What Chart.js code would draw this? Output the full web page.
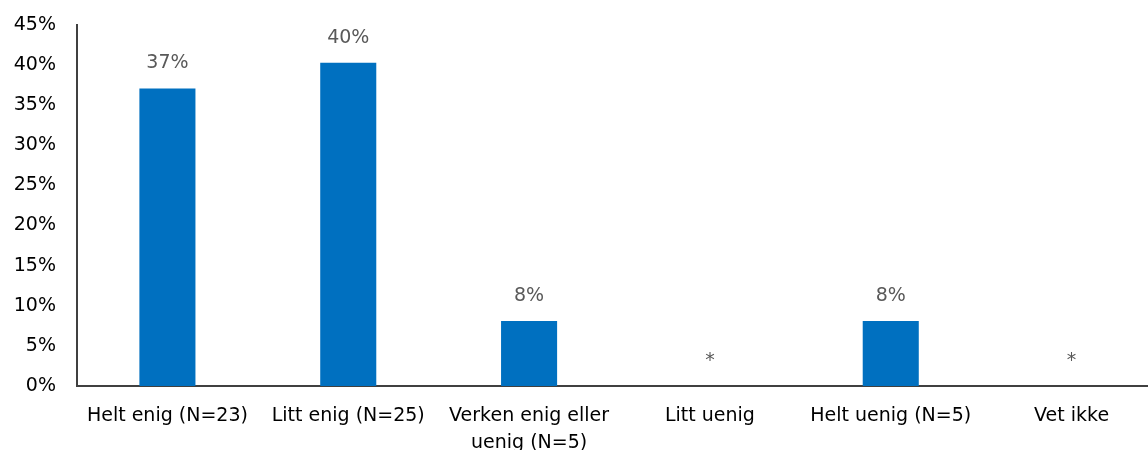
<!DOCTYPE html>
<html>
<head>
<meta charset="utf-8">
<script src="https://cdn.jsdelivr.net/npm/chart.js@4"></script>
<style>
  html, body { margin: 0; padding: 0; background: #fff; overflow: hidden; }
  #wrap { width: 1163px; height: 450px; }
</style>
</head>
<body>
<div id="wrap"><canvas id="chart" width="1163" height="450"></canvas></div>
<script>
// Kategorier og verdier (prosent)
const categories = [
  'Helt enig (N=23)',
  'Litt enig (N=25)',
  ['Verken enig eller', 'uenig (N=5)'],
  'Litt uenig',
  'Helt uenig (N=5)',
  'Vet ikke'
];
const values = [37.1, 40.3, 8.1, 0, 8.1, 0];
const valueLabels = ['37%', '40%', '8%', '*', '8%', '*'];
const yTicks = [0, 5, 10, 15, 20, 25, 30, 35, 40, 45];

const FONT = 'DejaVu Sans';

// Enkel plugin for å skrive verdier over søylene
const barLabels = {
  id: 'barLabels',
  afterDatasetsDraw(chart) {
    const ctx = chart.ctx;
    const meta = chart.getDatasetMeta(0);
    ctx.save();
    ctx.font = '19px "' + FONT + '"';
    ctx.fillStyle = '#595959';
    ctx.textAlign = 'center';
    ctx.textBaseline = 'middle';
    meta.data.forEach((bar, i) => {
      ctx.fillText(valueLabels[i], bar.x, bar.y - 25);
    });
    ctx.restore();
  }
};

new Chart(document.getElementById('chart').getContext('2d'), {
  type: 'bar',
  data: {
    labels: categories,
    datasets: [{
      data: values,
      backgroundColor: '#0070C0',
      barPercentage: 0.31,
      categoryPercentage: 1
    }]
  },
  options: {
    responsive: false,
    animation: false,
    layout: { padding: { top: 25, right: 1, left: 0, bottom: 0 } },
    plugins: {
      legend: { display: false },
      tooltip: { enabled: false }
    },
    scales: {
      x: {
        grid: { display: false, drawTicks: false },
        border: { display: true, color: '#404040', width: 2 },
        ticks: {
          color: '#000',
          padding: 16,
          maxRotation: 0,
          autoSkip: false,
          font: { family: FONT, size: 19, lineHeight: 1.45 }
        },
        afterFit: s => { s.height = 64; }
      },
      y: {
        min: 0,
        max: 45,
        afterBuildTicks: s => { s.ticks = yTicks.map(v => ({ value: v })); },
        grid: { display: false, drawTicks: false },
        border: { display: true, color: '#404040', width: 2 },
        ticks: {
          color: '#000',
          padding: 21,
          font: { family: FONT, size: 19 },
          callback: v => v + '%'
        },
        afterFit: s => { s.width = 77; s.paddingTop = 0; s.paddingBottom = 0; }
      }
    }
  },
  plugins: [barLabels]
});
</script>
</body>
</html>
